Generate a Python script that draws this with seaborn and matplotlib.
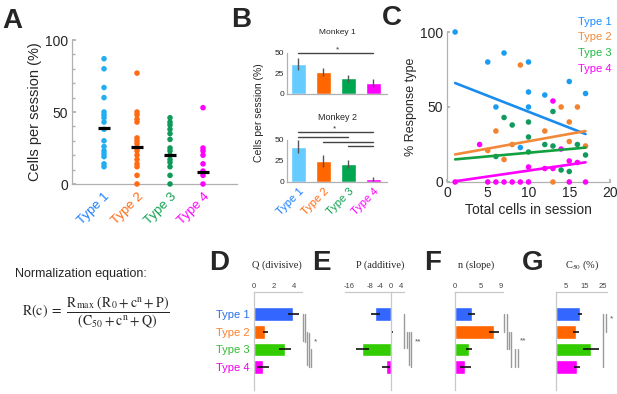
import numpy as np
import pandas as pd
import matplotlib
matplotlib.use("Agg")
import matplotlib.pyplot as plt
import matplotlib.transforms as mtransforms
from matplotlib.ticker import MultipleLocator
import seaborn as sns

types = ["Type 1", "Type 2", "Type 3", "Type 4"]

# ---------------- Panel A: cells per session (%) ----------------
a_type1 = [87, 80, 67, 60, 50, 48, 46, 43, 38, 30, 26, 23, 21, 19, 14, 12]
a_type2 = [77, 50, 48, 45, 43, 32, 30, 28, 25, 23, 20, 17, 14, 12, 6, 0]
a_type3 = [46, 43, 41, 38, 35, 31, 25, 23, 20, 17, 15, 12, 6, 0]
a_type4 = [53, 25, 23, 20, 14, 9, 6, 0]
a_center = [39, 26, 20, 8]

# ---------------- Panel B: monkey bar charts ----------------
b_m1_values = [36.5, 27, 19, 13.5]
b_m1_err = [7.5, 4.5, 4, 5]
b_m2_values = [42, 24.5, 21, 3]
b_m2_err = [8, 7, 5, 2.5]

# ---------------- Panel C: % response type vs total cells ----------------
c_type1_x = [1, 5, 7, 6, 10, 10, 10, 9, 12, 15, 17]
c_type1_y = [100, 80, 86, 50, 80, 60, 50, 23, 58, 67, 59]
c_type2_x = [5, 6, 7, 8, 9, 12, 13, 14, 15, 15, 16, 17]
c_type2_y = [21, 34, 15, 25, 78, 34, 0, 50, 40, 27, 50, 24]
c_type3_x = [6, 7, 8, 10, 10, 10, 12, 13, 13, 14, 15, 16, 17]
c_type3_y = [17, 43, 38, 40, 30, 20, 25, 47, 24, 8, 7, 25, 18]
c_type4_x = [1, 4, 5, 6, 7, 8, 9, 10, 10, 12, 13, 13, 14, 15, 15, 16, 17]
c_type4_y = [0, 25, 0, 0, 0, 0, 0, 0, 10, 9, 54, 9, 22, 14, 0, 13, 0]
c_fit_intercept = [68.1, 17.4, 14.6, -0.3]
c_fit_slope = [-2.125, 0.975, 0.49, 0.79]
c_fit_range = [1, 17]

# ---------------- Panels D-G: normalization parameters ----------------
d_values = [3.9, 1.1, 3.1, 0.9]
d_err = [0.55, 0.25, 0.6, 0.6]
e_values = [-6.0, 0.4, -10.9, -1.9]
e_err = [1.7, 0.4, 2.5, 1.5]
f_values = [3.3, 7.6, 2.7, 2.0]
f_err = [0.7, 1.0, 0.6, 1.1]
g_values = [12.8, 10.6, 18.6, 11.2]
g_err = [1.0, 1.8, 4.3, 1.7]

# ---------------- styling ----------------
sns.set_theme(style="white")
plt.rcParams['font.family'] = ['Liberation Sans', 'DejaVu Sans']
plt.rcParams['mathtext.fontset'] = 'stix'
plt.rcParams['axes.unicode_minus'] = False

a_colors = ["#22aef0", "#ff6a13", "#109a5a", "#ff00ff"]
label_colors = ["#1a7dff", "#ff6a13", "#10a050", "#ff00ff"]
b_colors = ["#66ccff", "#ff6600", "#00a650", "#ff00ff"]
c_point_colors = ["#1a9df0", "#f2822e", "#129a5e", "#ff00ff"]
c_line_colors = ["#1a8cee", "#f08a3a", "#12a040", "#ff00ff"]
c_legend_colors = ["#1a8cff", "#f08a3a", "#22bb44", "#ff00ff"]
dg_colors = ["#3366ff", "#ff6600", "#33cc00", "#ff00ff"]
dg_label_colors = ["#2a6ee8", "#ff7f27", "#33bb33", "#ee00ee"]
spine_gray = "#b0b0b0"

W, H = 617, 394
fig = plt.figure(figsize=(W / 100, H / 100), dpi=100)


def ax_px(l, t, r, b):
    return fig.add_axes([l / W, 1 - b / H, (r - l) / W, (b - t) / H])


def ftext(x, y, s, **kw):
    return fig.text(x / W, 1 - y / H, s, **kw)


def style_spines(ax, keep=("left", "bottom")):
    for k, sp in ax.spines.items():
        sp.set_visible(k in keep)
        sp.set_color(spine_gray)
        sp.set_linewidth(0.9)


# ================= Panel A =================
axA = ax_px(72, 40, 237, 184)
df_a = pd.DataFrame({
    "type": sum([[t] * len(v) for t, v in zip(types, [a_type1, a_type2, a_type3, a_type4])], []),
    "value": a_type1 + a_type2 + a_type3 + a_type4,
})
sns.stripplot(data=df_a, x="type", y="value", hue="type", palette=a_colors,
              jitter=False, size=4.0, linewidth=0, legend=False, ax=axA,
              clip_on=False, zorder=3)
pos = np.arange(4)
axA.hlines(a_center, pos - 0.19, pos + 0.19, color="black", lw=2.3, zorder=5)
axA.set_xlim(-0.97, 4.03)
axA.set_ylim(0, 100)
axA.set_yticks([0, 50, 100])
axA.yaxis.set_minor_locator(MultipleLocator(10))
axA.tick_params(axis="y", which="both", direction="in", left=True, color=spine_gray,
                labelsize=10, pad=3)
axA.tick_params(axis="y", which="major", length=3)
axA.tick_params(axis="y", which="minor", length=2.5)
axA.tick_params(axis="x", length=0, pad=5)
axA.set_xticks(pos)
axA.set_xticklabels(types, rotation=45, ha="right", rotation_mode="anchor", fontsize=9.5)
for lab, c in zip(axA.get_xticklabels(), label_colors):
    lab.set_color(c)
axA.set_xlabel("")
axA.set_ylabel("Cells per session (%)", fontsize=10.5, labelpad=2)
style_spines(axA)

# ================= Panel B =================
def bar_panel(ax, vals, errs, show_labels):
    sns.barplot(x=types, y=vals, hue=types, palette=b_colors, width=0.6,
                errorbar=None, legend=False, ax=ax, saturation=1)
    ax.errorbar(pos, vals, yerr=errs, fmt="none", ecolor="#555555", elinewidth=1, capsize=0)
    ax.set_xlim(-0.45, 3.55)
    ax.set_ylim(0, 50)
    ax.set_yticks([0, 25, 50])
    ax.tick_params(axis="y", labelsize=6, length=2, direction="in", color=spine_gray, pad=2)
    ax.tick_params(axis="x", length=0)
    if show_labels:
        ax.set_xticks(pos)
        ax.set_xticklabels(types, rotation=45, ha="right", rotation_mode="anchor", fontsize=8)
        for lab, c in zip(ax.get_xticklabels(), label_colors):
            lab.set_color(c)
    else:
        ax.set_xticklabels([])
    ax.set_xlabel("")
    ax.set_ylabel("")
    style_spines(ax)


axB1 = ax_px(287, 53, 387, 94)
bar_panel(axB1, b_m1_values, b_m1_err, False)
axB2 = ax_px(287, 140, 387, 181.7)
bar_panel(axB2, b_m2_values, b_m2_err, True)

sig_col = "#444444"
axB1.plot([0, 3], [50, 50], color=sig_col, lw=1, clip_on=False)
axB1.text(1.56, 54, "*", ha="center", va="center", fontsize=6, color="#333")
for (x0, x1, yv) in [(0, 3, 59), (0, 2, 54), (1, 3, 48), (2, 3, 43)]:
    axB2.plot([x0, x1], [yv, yv], color=sig_col, lw=1, clip_on=False)
axB2.text(1.44, 63, "*", ha="center", va="center", fontsize=6, color="#333")
ftext(337, 32, "Monkey 1", ha="center", va="center", fontsize=6)
ftext(337, 118, "Monkey 2", ha="center", va="center", fontsize=6.5)
ftext(259, 113, "Cells per session (%)", ha="center", va="center", rotation=90, fontsize=7.5)

# ================= Panel C =================
axC = ax_px(447, 32, 610, 182)
cx = [c_type1_x, c_type2_x, c_type3_x, c_type4_x]
cy = [c_type1_y, c_type2_y, c_type3_y, c_type4_y]
df_c = pd.DataFrame({
    "type": sum([[t] * len(v) for t, v in zip(types, cx)], []),
    "x": sum(cx, []),
    "y": sum(cy, []),
})
sns.scatterplot(data=df_c, x="x", y="y", hue="type", palette=c_point_colors, s=16,
                linewidth=0, legend=False, ax=axC, clip_on=False, zorder=3)
fit_rows = []
for t, a, b in zip(types, c_fit_intercept, c_fit_slope):
    for xv in c_fit_range:
        fit_rows.append({"type": t, "x": xv, "y": a + b * xv})
df_fit = pd.DataFrame(fit_rows)
sns.lineplot(data=df_fit, x="x", y="y", hue="type", palette=c_line_colors, lw=1.9,
             legend=False, ax=axC, zorder=4, clip_on=False)
axC.set_xlim(0, 20)
axC.set_ylim(0, 100)
axC.set_xticks([0, 5, 10, 15, 20])
axC.set_yticks([0, 50, 100])
axC.tick_params(axis="both", labelsize=10, length=2.5, direction="in", color=spine_gray, pad=3)
axC.tick_params(axis="x", bottom=True)
axC.tick_params(axis="y", left=True)
axC.set_xlabel("Total cells in session", fontsize=10, labelpad=2)
axC.set_ylabel("% Response type", fontsize=9, labelpad=2)
style_spines(axC)
for i, (t, c) in enumerate(zip(types, c_legend_colors)):
    ftext(578, 22 + 15.5 * i, t, color=c, fontsize=8, va="center", ha="left")

# ================= Panels D-G =================
dg_specs = [
    ("D", 254, 302, (0, 4.8), [0, 2, 4], d_values, d_err, "Q (divisive)", 277, 215),
    ("E", 345, 404, (-17.5, 5), [-16, -8, -4, 0, 4], e_values, e_err, "P (additive)", 380, 318),
    ("F", 455, 503, (0, 9.4), [0, 5, 9], f_values, f_err, "n (slope)", 476, 430),
    ("G", 556, 607, (0, 27), [5, 15, 25], g_values, g_err, r"C$_{50}$ (%)", 582, 528),
]
sig_specs = {
    "D": ([303, 305, 307, 309, 311], [(0, 1.5), (0, 1.6), (1, 2.9), (1.1, 3), (2, 3)], "*", 315),
    "E": ([404, 407, 409, 411], [(0, 1.9), (1, 1.9), (1, 2.9), (1, 3)], "**", 418),
    "F": ([504, 507, 509, 511, 515, 518], [(0, 1), (0, 2), (1, 2), (1, 3), (2, 3), (2, 3)], "**", 523),
    "G": ([603, 606], [(0, 3), (0, 1)], "*", 611),
}
star_y = {"D": 1.55, "E": 1.55, "F": 1.5, "G": 0.3}
for (letter, l, r, xlim, xt, vals, errs, title, tx, lx) in dg_specs:
    ax = ax_px(l, 292, r, 390)
    sns.barplot(x=vals, y=types, hue=types, palette=dg_colors, orient="h", width=0.78,
                errorbar=None, legend=False, ax=ax, saturation=1)
    ax.errorbar(vals, pos, xerr=errs, fmt="none", ecolor="#111111", elinewidth=1.2, capsize=0)
    ax.set_xlim(*xlim)
    ax.set_ylim(4.3, -1.25)
    ax.xaxis.tick_top()
    ax.set_xticks(xt)
    ax.tick_params(axis="x", labelsize=5.5, length=0, pad=1.5, labelcolor="#444444")
    ax.tick_params(axis="y", length=0, pad=3)
    ax.set_xlabel("")
    ax.set_ylabel("")
    for k, sp in ax.spines.items():
        sp.set_visible(k in ("top", "left"))
        sp.set_color("#c8c8c8")
        sp.set_linewidth(0.9)
    ax.spines["left"].set_position(("data", 0))
    if letter == "D":
        ax.set_yticks(pos)
        ax.set_yticklabels(types, fontsize=8)
        for lab, c in zip(ax.get_yticklabels(), dg_label_colors):
            lab.set_color(c)
    else:
        ax.set_yticks(pos)
        ax.set_yticklabels([])
    trans = mtransforms.blended_transform_factory(ax.transAxes, ax.transData)
    xs_px, spans, star, star_px = sig_specs[letter]
    for xp, (y0, y1) in zip(xs_px, spans):
        xf = (xp - l) / (r - l)
        ax.plot([xf, xf], [y0, y1], transform=trans, color="#9a9a9a", lw=1, clip_on=False)
    ax.text((star_px - l) / (r - l), star_y[letter], star, transform=trans, fontsize=6,
            ha="center", va="center", color="#555555")
    ftext(tx, 265, title, ha="center", va="center", fontsize=7.5,
          family=["Liberation Serif", "DejaVu Serif"])
    ftext(lx - 6, 270, letter, fontsize=20, fontweight="bold", ha="left", va="baseline")

# ================= Panel letters A-C =================
ftext(2, 28, "A", fontsize=20, fontweight="bold", va="baseline")
ftext(231, 27, "B", fontsize=20, fontweight="bold", va="baseline")
ftext(382, 25, "C", fontsize=20, fontweight="bold", va="baseline")

# ================= Equation =================
ftext(15, 274, "Normalization equation:", fontsize=9, va="center", ha="left")
ftext(22, 312,
      r"$\mathrm{R(c)}\ =\ \dfrac{\mathrm{R}_{\mathrm{max}}\ (\mathrm{R}_0 + \mathrm{c}^{\mathrm{n}} + \mathrm{P})}"
      r"{(\mathrm{C}_{50} + \mathrm{c}^{\mathrm{n}} + \mathrm{Q})}$",
      fontsize=10, va="center", ha="left")

fig.savefig("out.png", dpi=100)
